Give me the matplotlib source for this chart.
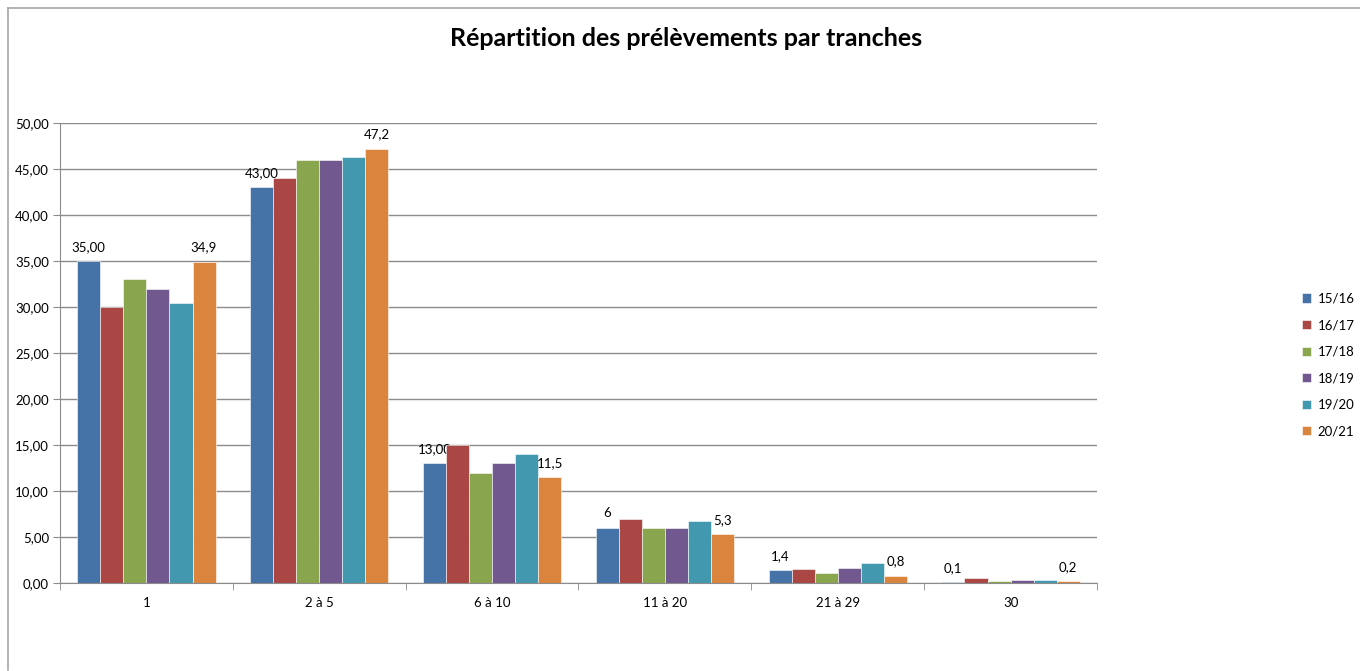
#! /usr/bin/env python

import numpy as np
import matplotlib.pyplot as plt
from matplotlib.lines import Line2D
from matplotlib.ticker import FuncFormatter

### data
categories = ['1', '2 à 5', '6 à 10', '11 à 20', '21 à 29', '30']
seasons = ['15/16', '16/17', '17/18', '18/19', '19/20', '20/21']
v1516 = [35.0, 43.0, 13.0, 6.0, 1.4, 0.1]
v1617 = [30.0, 44.0, 15.0, 7.0, 1.5, 0.5]
v1718 = [33.0, 46.0, 12.0, 6.0, 1.1, 0.2]
v1819 = [32.0, 46.0, 13.0, 6.0, 1.6, 0.3]
v1920 = [30.4, 46.3, 14.0, 6.7, 2.2, 0.3]
v2021 = [34.9, 47.2, 11.5, 5.3, 0.8, 0.2]
labels_first = ['35,00', '43,00', '13,00', '6', '1,4', '0,1']
labels_last = ['34,9', '47,2', '11,5', '5,3', '0,8', '0,2']

series = [v1516, v1617, v1718, v1819, v1920, v2021]
colors = ['#4572A7', '#AA4643', '#89A54E', '#71588F', '#4198AF', '#DB843D']

plt.rcParams['font.family'] = ['Lato', 'DejaVu Sans']

### figure
fig = plt.figure(figsize=(13.6, 6.71), dpi=100)
ax = fig.add_axes([60 / 1360, 88 / 671, 1037 / 1360, 460 / 671])

x = np.arange(len(categories))
nser = len(series)
w = 1.0 / (nser + 1.5)
for i, (vals, col) in enumerate(zip(series, colors)):
    pos = x - 0.5 + 0.75 * w + (i + 0.5) * w
    bars = ax.bar(pos, vals, width=w, color=col, edgecolor='white',
                  linewidth=0.4, label=seasons[i], zorder=3)
    if i == 0:
        ax.bar_label(bars, labels=labels_first, padding=6, fontsize=9.5)
    if i == nser - 1:
        ax.bar_label(bars, labels=labels_last, padding=6, fontsize=9.5)

### axes
ax.set_xlim(-0.5, len(categories) - 0.5)
ax.set_ylim(0, 50)
ax.set_yticks(np.arange(0, 51, 5))
ax.yaxis.set_major_formatter(FuncFormatter(lambda v, p: ('%.2f' % v).replace('.', ',')))
ax.grid(axis='y', color='#8c8c8c', linewidth=1.0, zorder=0)
ax.set_xticks(x)
ax.set_xticklabels(categories)
ax.set_xticks(np.arange(-0.5, len(categories), 1.0), minor=True)
ax.tick_params(axis='x', which='major', length=0, pad=10, labelsize=9.5)
ax.tick_params(axis='x', which='minor', length=5, color='#8c8c8c')
ax.tick_params(axis='y', length=5, color='#8c8c8c', labelsize=9.5, pad=3)
for s in ['top', 'right']:
    ax.spines[s].set_visible(False)
for s in ['left', 'bottom']:
    ax.spines[s].set_color('#8c8c8c')
    ax.spines[s].set_zorder(4)

### title
fig.text(686 / 1360, 1 - 38 / 671, 'Répartition des prélèvements par tranches',
         ha='center', va='center', fontsize=18, fontweight='bold')

### legend
leg = fig.legend(loc='center left', bbox_to_anchor=(1290 / 1360, 1 - 365 / 671),
                 frameon=False, fontsize=9.5, handlelength=0.7, handleheight=0.7,
                 handletextpad=0.5, labelspacing=1.1)

### outer frame
fig.add_artist(Line2D([8 / 1360, 8 / 1360], [1 - 8 / 671, 1 - 670 / 671],
                      transform=fig.transFigure, color='#a6a6a6', linewidth=1.2))
fig.add_artist(Line2D([8 / 1360, 1.0], [1 - 8 / 671, 1 - 8 / 671],
                      transform=fig.transFigure, color='#a6a6a6', linewidth=1.2))

plt.savefig('out.png', dpi=100)
